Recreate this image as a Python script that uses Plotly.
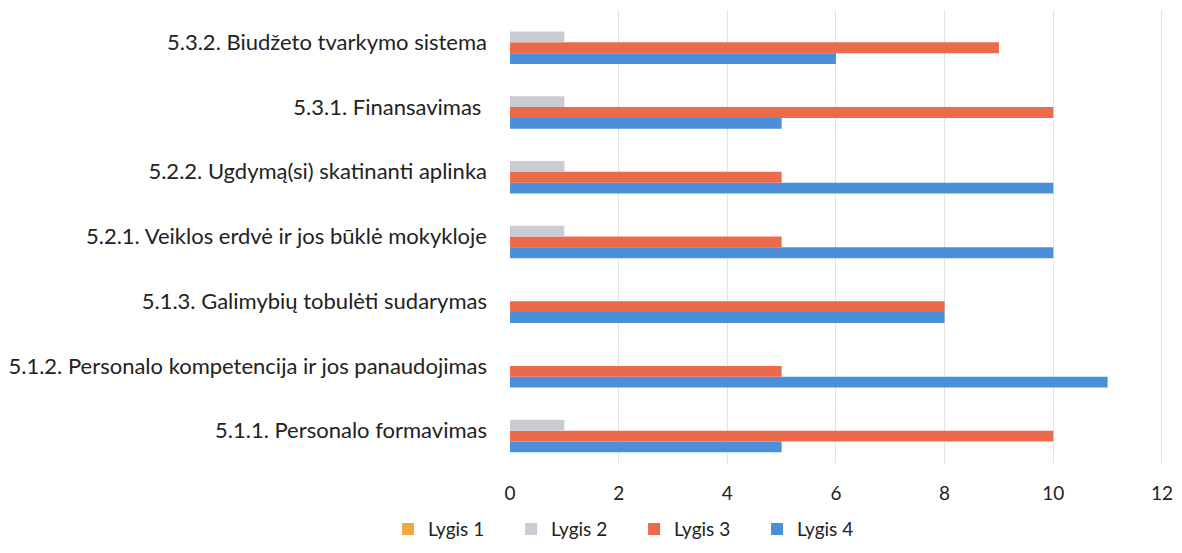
import plotly.graph_objects as go

categories = [
    "5.1.1. Personalo formavimas",
    "5.1.2. Personalo kompetencija ir jos panaudojimas",
    "5.1.3. Galimybių tobulėti sudarymas",
    "5.2.1. Veiklos erdvė ir jos būklė mokykloje",
    "5.2.2. Ugdymą(si) skatinanti aplinka",
    "5.3.1. Finansavimas ",
    "5.3.2. Biudžeto tvarkymo sistema",
]
lygis1 = [0, 0, 0, 0, 0, 0, 0]
lygis2 = [1, 0, 0, 1, 1, 1, 1]
lygis3 = [10, 5, 8, 5, 5, 10, 9]
lygis4 = [5, 11, 8, 10, 10, 5, 6]

series = [
    ("Lygis 4", lygis4, "#4A8FDA"),
    ("Lygis 3", lygis3, "#EB6A4B"),
    ("Lygis 2", lygis2, "#C9CDD3"),
    ("Lygis 1", lygis1, "#F3A840"),
]

fig = go.Figure()
for name, vals, col in series:
    fig.add_trace(go.Bar(
        y=categories, x=vals, name=name, orientation="h",
        marker=dict(color=col, line=dict(width=0)),
    ))

font = "Lato, 'Open Sans', sans-serif"
fig.update_layout(
    width=1166, height=537,
    barmode="group", bargap=0.33, bargroupgap=0,
    plot_bgcolor="white", paper_bgcolor="white",
    margin=dict(l=502, r=11, t=2, b=82, autoexpand=False),
    font=dict(family=font, size=21, color="#222222"),
    xaxis=dict(range=[0, 12.02], tickvals=[0, 2, 4, 6, 8, 10, 12],
               showgrid=True, gridcolor="#E3E3E3",
               gridwidth=1, zeroline=False, showline=False, automargin=False,
               tickfont=dict(size=19), ticks="", ticklabelstandoff=17,
               ticklabeloverflow="allow"),
    yaxis=dict(showgrid=False, zeroline=False, showline=False, ticks="",
               automargin=False, ticklabelstandoff=22, tickfont=dict(size=22)),
    legend=dict(orientation="h", traceorder="reversed", x=0.19, xanchor="center",
                y=-0.146, yanchor="middle", font=dict(size=19),
                itemwidth=30, itemsizing="constant", entrywidth=78),
)

fig.write_html("out.html")
